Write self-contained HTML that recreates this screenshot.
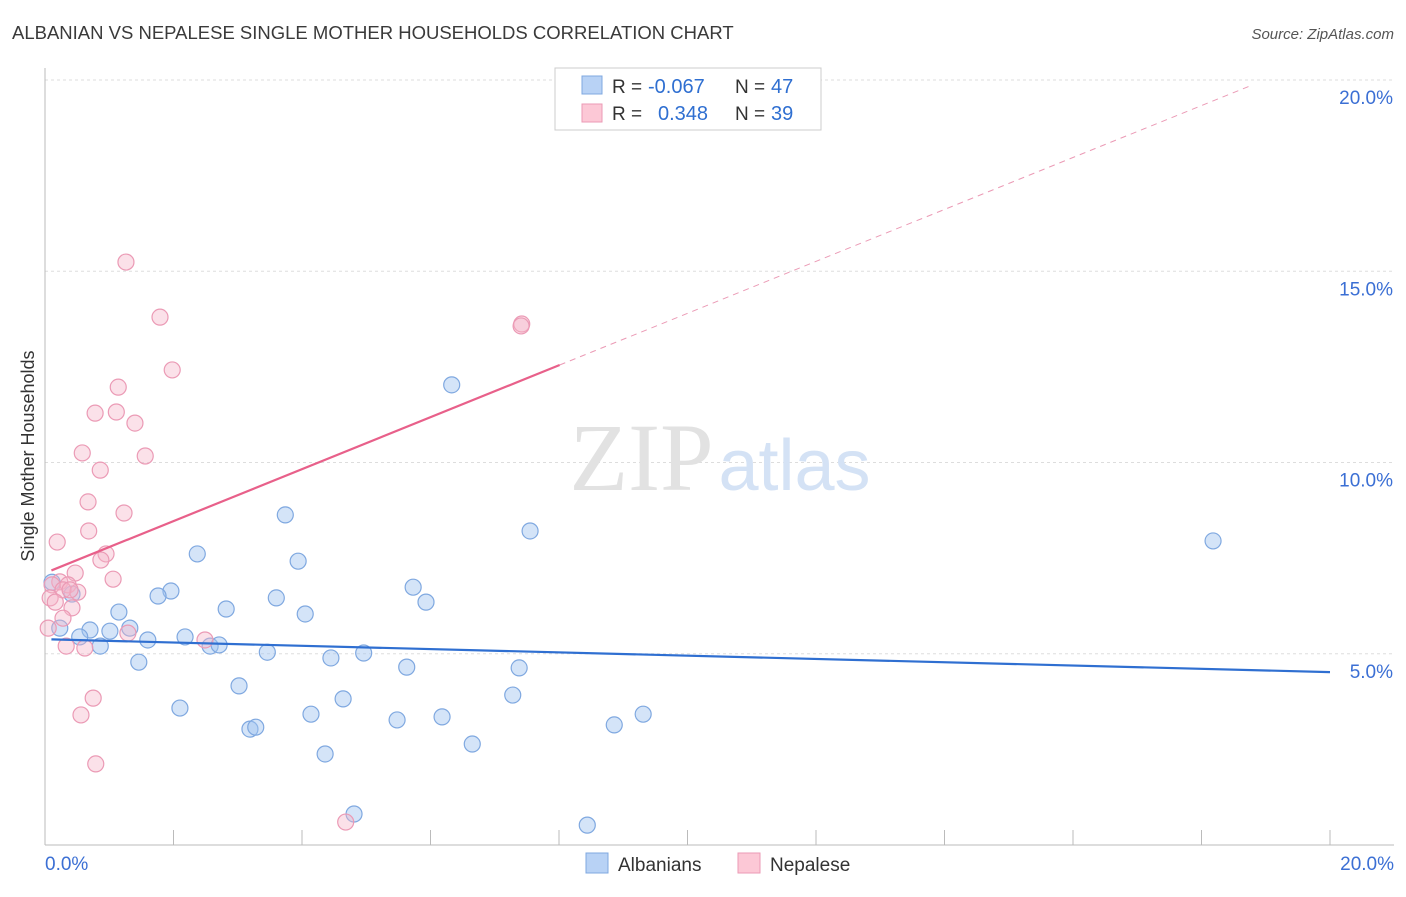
<!DOCTYPE html>
<html><head><meta charset="utf-8"><style>
body{margin:0;background:#fff;font-family:"Liberation Sans",sans-serif}
svg text{font-family:"Liberation Sans",sans-serif}
</style></head><body>
<svg id="chart" width="1406" height="892" xmlns="http://www.w3.org/2000/svg">
<text x="12" y="39" font-size="18.5" fill="#3a3a3a">ALBANIAN VS NEPALESE SINGLE MOTHER HOUSEHOLDS CORRELATION CHART</text>
<text x="1394" y="39" font-size="15" fill="#555" text-anchor="end" font-style="italic">Source: ZipAtlas.com</text>
<g id="grid"></g>
<text x="720" y="490" font-size="96" text-anchor="middle"><tspan fill="#e2e2e2" font-family="Liberation Serif">ZIP</tspan><tspan fill="#d4e2f5" font-size="72" dx="5">atlas</tspan></text>
<text transform="translate(34,456) rotate(-90)" font-size="18" fill="#333" text-anchor="middle">Single Mother Households</text>
<g id="marks"></g>
<g>
<rect x="555" y="68" width="266" height="62" fill="#fff" stroke="#ccc"/>
<rect x="582" y="76" width="20" height="18" fill="#b8d2f5" stroke="#7fa8e0"/>
<rect x="582" y="104" width="20" height="18" fill="#fcc8d6" stroke="#eb9ab5"/>
<text x="612" y="93" font-size="19" fill="#333">R =</text>
<text x="648" y="93" font-size="20" fill="#2f6fd1">-0.067</text>
<text x="735" y="93" font-size="19" fill="#333">N =</text>
<text x="771" y="93" font-size="20" fill="#2f6fd1">47</text>
<text x="612" y="120" font-size="19" fill="#333">R =</text>
<text x="658" y="120" font-size="20" fill="#2f6fd1">0.348</text>
<text x="735" y="120" font-size="19" fill="#333">N =</text>
<text x="771" y="120" font-size="20" fill="#2f6fd1">39</text>
</g>
<g>
<rect x="586" y="853" width="22" height="20" fill="#b8d2f5" stroke="#7fa8e0"/>
<text x="618" y="871" font-size="19" fill="#333">Albanians</text>
<rect x="738" y="853" width="22" height="20" fill="#fcc8d6" stroke="#eb9ab5"/>
<text x="770" y="871" font-size="19" fill="#333">Nepalese</text>
</g>
</svg>
<script>
const yTicks=[5,10,15,20];
const yTickLabels=["5.0%","10.0%","15.0%","20.0%"];
const xTickLabels=["0.0%","20.0%"];
const albX=[6.33,3.74,7.55,18.18,2.37,3.94,5.73,1.96,1.76,3.60,5.93,2.82,4.05,1.15,0.42,0.23,0.70,1.01,1.32,1.60,2.18,0.54,0.86,2.57,2.71,3.46,4.45,4.96,1.46,5.63,7.38,3.02,2.10,4.64,7.28,4.14,5.48,6.18,9.31,8.86,3.19,3.28,6.65,4.36,4.81,8.44,0.11];
const albY=[12.03,8.63,8.21,7.95,7.61,7.42,6.74,6.64,6.51,6.46,6.35,6.17,6.04,6.09,6.56,5.67,5.62,5.59,5.67,5.36,5.44,5.44,5.20,5.20,5.23,5.04,4.89,5.02,4.78,4.65,4.63,4.16,3.58,3.82,3.92,3.42,3.27,3.35,3.42,3.14,3.03,3.08,2.64,2.38,0.81,0.52,6.87];
const nepX=[1.26,1.79,1.98,7.42,7.41,1.14,0.78,1.11,1.40,0.58,1.56,0.86,0.67,1.23,0.68,0.19,0.95,0.87,0.47,1.06,0.23,0.11,0.36,0.51,0.28,0.08,0.16,0.42,0.28,0.05,1.29,2.49,0.33,0.62,0.75,0.56,0.79,4.68,0.39];
const nepY=[15.24,13.80,12.42,13.62,13.57,11.97,11.29,11.32,11.03,10.25,10.17,9.80,8.97,8.68,8.21,7.92,7.61,7.45,7.11,6.95,6.88,6.80,6.80,6.61,6.67,6.46,6.35,6.20,5.93,5.67,5.54,5.36,5.20,5.15,3.84,3.40,2.12,0.60,6.67];
const albTrend=[5.38,4.52];
const nepTrend=[7.11,0.679];
const NS="http://www.w3.org/2000/svg";
const X=v=>45+v/20*1285, Y=v=>845-v*38.25;
function mk(t,a,p){const e=document.createElementNS(NS,t);for(const k in a)e.setAttribute(k,a[k]);p.appendChild(e);return e;}
const g=document.getElementById('grid'),m=document.getElementById('marks');
yTicks.forEach((t,i)=>{
 const l=mk('line',{x1:45,x2:1394,y1:Y(t),y2:Y(t),stroke:'#ddd','stroke-dasharray':'3,3'},g);
 
 const tx=mk('text',{x:1393,y:Y(t)+24,'font-size':19,fill:'#3b6fd4','text-anchor':'end'},g);tx.textContent=yTickLabels[i];
 
});
const ax=mk('line',{x1:45,x2:45,y1:68,y2:845,stroke:'#bbb'},g);

const bx=mk('line',{x1:45,x2:1394,y1:845,y2:845,stroke:'#bbb'},g);

for(let i=1;i<=10;i++){const t=mk('line',{x1:X(i*2),x2:X(i*2),y1:830,y2:845,stroke:'#bbb'},g);
 }
[[0,'start',45],[20,'end',1394]].forEach((d,i)=>{const t=mk('text',{x:d[2],y:870,'font-size':19,fill:'#3b6fd4','text-anchor':d[1]},g);t.textContent=xTickLabels[i];
 });
albX.forEach((x,i)=>{const c=mk('circle',{cx:X(x),cy:Y(albY[i]),r:8,fill:'rgba(160,195,240,0.45)',stroke:'#7fa8e0','stroke-width':1.2},m);
 });
nepX.forEach((x,i)=>{const c=mk('circle',{cx:X(x),cy:Y(nepY[i]),r:8,fill:'rgba(245,180,200,0.4)',stroke:'#eb9ab5','stroke-width':1.2},m);
 });
const bl=mk('line',{x1:X(0.1),y1:Y(albTrend[0]+(albTrend[1]-albTrend[0])*0.005),x2:X(20),y2:Y(albTrend[1]),stroke:'#2f6fd1','stroke-width':2.2},m);

const py=x=>nepTrend[0]+nepTrend[1]*x;
const pl=mk('line',{x1:X(0.1),y1:Y(py(0.1)),x2:X(8.01),y2:Y(py(8.01)),stroke:'#e8608a','stroke-width':2.2},m);

const pd=mk('line',{x1:X(8.01),y1:Y(py(8.01)),x2:X(18.75),y2:Y(py(18.75)),stroke:'#eb9ab5','stroke-width':1,'stroke-dasharray':'6,5'},m);

</script>
</body></html>
